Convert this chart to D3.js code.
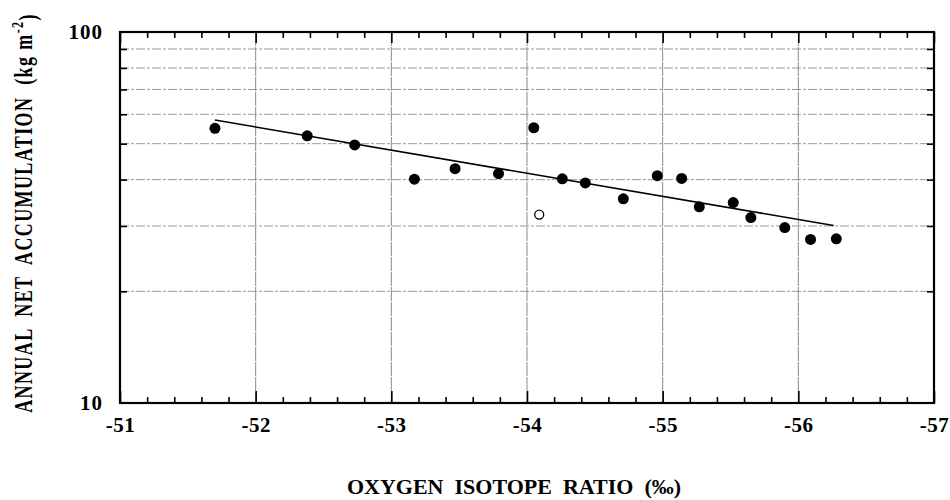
<!DOCTYPE html>
<html>
<head>
<meta charset="utf-8">
<script src="https://cdn.jsdelivr.net/npm/d3@7"></script>
<style>
  html, body { margin: 0; padding: 0; background: #fff; }
  svg { display: block; }
  text { font-family: "Liberation Serif", "DejaVu Serif", serif; font-weight: bold; fill: #000; }
</style>
</head>
<body>
<svg id="chart" width="950" height="500"></svg>
<script>
// ---- data ----
const isotope = [-51.70, -52.38, -52.73, -53.17, -53.47, -53.79, -54.05, -54.26, -54.43, -54.71, -54.96, -55.14, -55.27, -55.52, -55.65, -55.90, -56.09, -56.28];
const accumulation = [55.0, 52.5, 49.6, 40.1, 42.8, 41.5, 55.2, 40.2, 39.2, 35.5, 41.0, 40.3, 33.8, 34.7, 31.6, 29.7, 27.6, 27.7];
const openIsotope = [-54.09];
const openAccumulation = [32.2];
const fitIsotope = [-51.70, -56.26];
const fitAccumulation = [57.9, 30.1];
const xTicks = [-51, -52, -53, -54, -55, -56, -57];
const yTickLabels = [10, 100];
const yGrid = [20, 30, 40, 50, 60, 70, 80, 90];
const xTitle = "OXYGEN  ISOTOPE  RATIO  (‰)";

// ---- layout ----
const svg = d3.select("#chart");
const L = 120, R = 934, T = 32, B = 403;
const x = d3.scaleLinear().domain([-51, -57]).range([L, R]);
const y = d3.scaleLog().domain([10, 100]).range([B, T]);

const xMinor = d3.range(0, 31).map(i => -51 - i * 0.2).filter(v => Math.abs(v - Math.round(v)) > 1e-6);
const fmt = d => String(d);

// gridlines
svg.append("g").selectAll("line").data(yGrid).join("line")
  .attr("x1", L).attr("x2", R)
  .attr("y1", d => y(d)).attr("y2", d => y(d))
  .attr("stroke", "#9a9a9a").attr("stroke-width", 1)
  .attr("stroke-dasharray", "9,2,3,2");
svg.append("g").selectAll("line").data(xTicks.slice(1, -1)).join("line")
  .attr("x1", d => x(d)).attr("x2", d => x(d))
  .attr("y1", T).attr("y2", B)
  .attr("stroke", "#8a8a8a").attr("stroke-width", 1)
  .attr("stroke-dasharray", "14,1");

// axes: bottom
const bottom = svg.append("g").attr("transform", `translate(0,${B})`)
  .call(d3.axisBottom(x).tickValues(xTicks).tickFormat(fmt)
    .tickSizeInner(-12).tickSizeOuter(0).tickPadding(14));
bottom.selectAll("text").style("font-size", "21px").style("letter-spacing", "0.5px");
svg.append("g").attr("transform", `translate(0,${B})`)
  .call(d3.axisBottom(x).tickValues(xMinor).tickFormat("").tickSizeInner(-6).tickSizeOuter(0));

// top
svg.append("g").attr("transform", `translate(0,${T})`)
  .call(d3.axisTop(x).tickValues(xTicks).tickFormat("").tickSizeInner(-11).tickSizeOuter(0));
svg.append("g").attr("transform", `translate(0,${T})`)
  .call(d3.axisTop(x).tickValues(xMinor).tickFormat("").tickSizeInner(-6).tickSizeOuter(0));

// left
const left = svg.append("g").attr("transform", `translate(${L},0)`)
  .call(d3.axisLeft(y).tickValues(yTickLabels).tickFormat(fmt)
    .tickSizeInner(0).tickSizeOuter(0).tickPadding(17));
left.selectAll("text").style("font-size", "21px").style("letter-spacing", "1px");
svg.append("g").attr("transform", `translate(${L},0)`)
  .call(d3.axisLeft(y).tickValues(yGrid).tickFormat("").tickSizeInner(-7).tickSizeOuter(0));

// right
svg.append("g").attr("transform", `translate(${R},0)`)
  .call(d3.axisRight(y).tickValues(yGrid).tickFormat("").tickSizeInner(-7).tickSizeOuter(0));

svg.selectAll(".domain").remove();
svg.selectAll(".tick line").attr("stroke", "#000").attr("stroke-width", 1.6);

// frame
svg.append("rect").attr("x", L).attr("y", T).attr("width", R - L).attr("height", B - T)
  .attr("fill", "none").attr("stroke", "#000").attr("stroke-width", 2.2);

// regression line
const line = d3.line().x(d => x(d[0])).y(d => y(d[1]));
svg.append("path").datum(d3.zip(fitIsotope, fitAccumulation))
  .attr("d", line).attr("fill", "none").attr("stroke", "#000").attr("stroke-width", 1.6);

// points
svg.append("g").selectAll("circle").data(d3.zip(isotope, accumulation)).join("circle")
  .attr("cx", d => x(d[0])).attr("cy", d => y(d[1])).attr("r", 5.5).attr("fill", "#000");
svg.append("g").selectAll("circle").data(d3.zip(openIsotope, openAccumulation)).join("circle")
  .attr("cx", d => x(d[0])).attr("cy", d => y(d[1])).attr("r", 4.5)
  .attr("fill", "#fff").attr("stroke", "#000").attr("stroke-width", 1.3);

// x title
svg.append("text").attr("x", 514).attr("y", 494).attr("text-anchor", "middle")
  .style("font-size", "22px").style("white-space", "pre").text(xTitle);

// y title
const yt = svg.append("text")
  .attr("transform", "translate(32,213) rotate(-90) scale(1,1.45)")
  .attr("text-anchor", "middle")
  .style("font-size", "18px").style("white-space", "pre").style("letter-spacing", "1.4px");
yt.append("tspan").text("ANNUAL  NET  ACCUMULATION  (kg m");
yt.append("tspan").attr("dy", "-0.5em").style("font-size", "12px").text("-2");
yt.append("tspan").attr("dy", "0.5em").text(")");
</script>
</body>
</html>
